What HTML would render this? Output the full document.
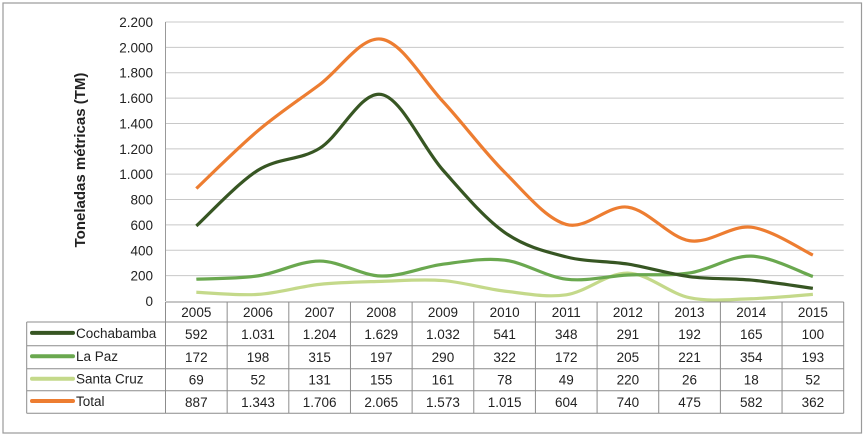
<!DOCTYPE html>
<html><head><meta charset="utf-8"><style>
body{margin:0;background:#fff;width:866px;height:436px;overflow:hidden;font-family:"Liberation Sans",sans-serif}
svg{position:absolute;left:0;top:0}
</style></head><body>
<svg id="s" width="866" height="436" xmlns="http://www.w3.org/2000/svg" font-family="Liberation Sans, sans-serif" font-size="13.5" fill="#222">
<rect x="3" y="3" width="858.5" height="430" fill="none" stroke="#9a9a9a" stroke-width="1.2"/>
<text transform="translate(85,160) rotate(-90)" text-anchor="middle" font-weight="bold" font-size="15">Toneladas métricas (TM)</text>
<g id="g"></g>
</svg>
<script>
var s=document.getElementById('g'),ns='http://www.w3.org/2000/svg',h='';
var L=165.5,R=843.7,cw=(R-L)/11,T=22,B=301,sc=(B-T)/2200;
var yl=['0','200','400','600','800','1.000','1.200','1.400','1.600','1.800','2.000','2.200'];
for(var i=0;i<12;i++){var y=B-i*200*sc;
 if(i>0)h+='<line x1="'+L+'" x2="'+R+'" y1="'+y+'" y2="'+y+'" stroke="#c8c8c8" stroke-width="1"/>';
 h+='<text x="153" y="'+(y+5)+'" text-anchor="end">'+yl[i]+'</text>';}
h+='<line x1="'+L+'" x2="'+L+'" y1="'+T+'" y2="'+B+'" stroke="#999"/>';
var d={C:[592,1031,1204,1629,1032,541,348,291,192,165,100],P:[172,198,315,197,290,322,172,205,221,354,193],S:[69,52,131,155,161,78,49,220,26,18,52],T:[887,1343,1706,2065,1573,1015,604,740,475,582,362]};
var lab={C:['Cochabamba',['592','1.031','1.204','1.629','1.032','541','348','291','192','165','100']],P:['La Paz',null],S:['Santa Cruz',null],T:['Total',['887','1.343','1.706','2.065','1.573','1.015','604','740','475','582','362']]};
var col={C:'#375623',P:'#6aa84f',S:'#c4d98a',T:'#ed7d31'};
function path(v){var p=v.map(function(a,i){return[L+cw*(i+.5),B-a*sc]});var r='M'+p[0];
 for(var i=0;i<p.length-1;i++){var p0=p[i-1]||p[i],p1=p[i],p2=p[i+1],p3=p[i+2]||p2;
 r+='C'+(p1[0]+(p2[0]-p0[0])/6)+','+(p1[1]+(p2[1]-p0[1])/6)+' '+(p2[0]-(p3[0]-p1[0])/6)+','+(p2[1]-(p3[1]-p1[1])/6)+' '+p2;}return r;}
['S','P','C','T'].forEach(function(k){h+='<path d="'+path(d[k])+'" fill="none" stroke="'+col[k]+'" stroke-width="3.2"/>';});
// table
var rows=[302,322,345.7,368.7,390.7,413.3];
h+='<g stroke="#8c8c8c" stroke-width="1" fill="none">';
h+='<line x1="'+L+'" x2="'+R+'" y1="302" y2="302"/>';
for(var i=1;i<6;i++)h+='<line x1="26.7" x2="'+R+'" y1="'+rows[i]+'" y2="'+rows[i]+'"/>';
h+='<line x1="26.7" x2="26.7" y1="322" y2="413.3"/>';
for(var j=0;j<=11;j++){var x=L+cw*j;h+='<line x1="'+x+'" x2="'+x+'" y1="302" y2="413.3"/>';}
h+='</g>';
for(var j=0;j<11;j++)h+='<text x="'+(L+cw*(j+.5))+'" y="317" text-anchor="middle">'+(2005+j)+'</text>';
['C','P','S','T'].forEach(function(k,ri){var y=(rows[ri+1]+rows[ri+2])/2;
 h+='<line x1="32" x2="73" y1="'+(y-1)+'" y2="'+(y-1)+'" stroke="'+col[k]+'" stroke-width="4" stroke-linecap="round"/>';
 h+='<text x="76" y="'+(y+4)+'">'+lab[k][0]+'</text>';
 var v=lab[k][1]||d[k].map(String);
 for(var j=0;j<11;j++)h+='<text x="'+(L+cw*(j+.5))+'" y="'+(y+5)+'" text-anchor="middle">'+v[j]+'</text>';});
s.innerHTML=h;
</script>
</body></html>
